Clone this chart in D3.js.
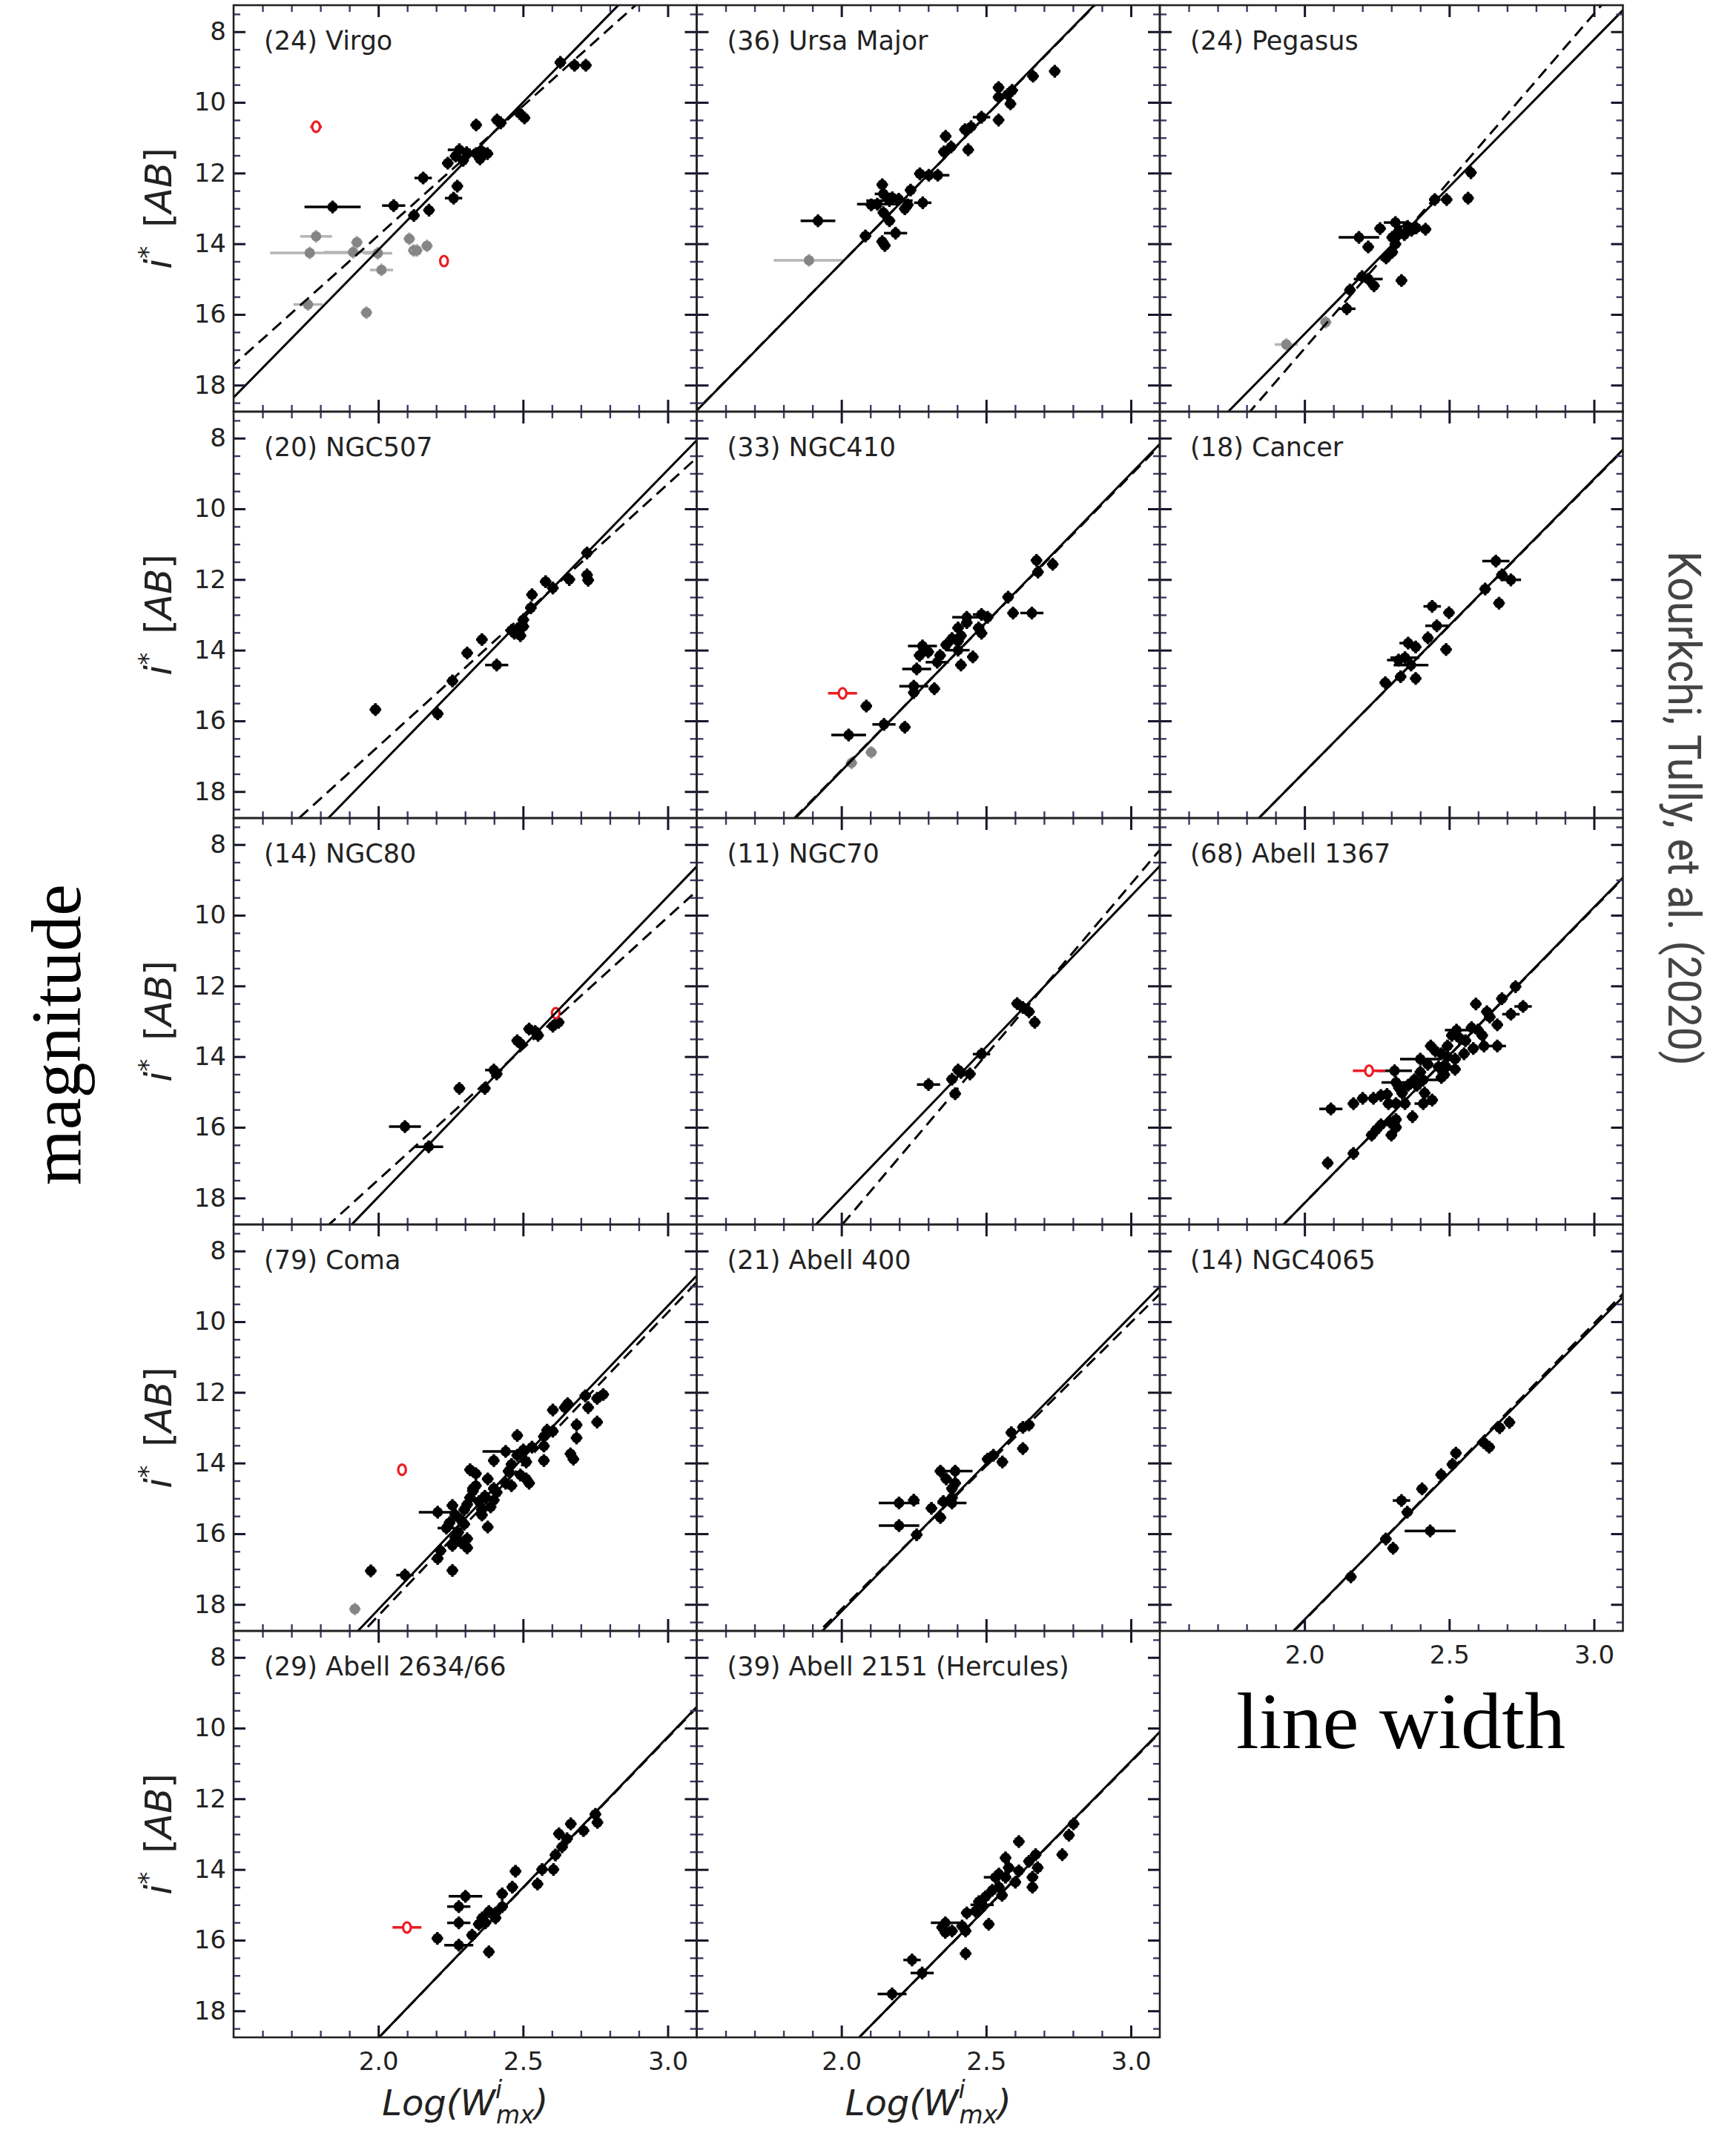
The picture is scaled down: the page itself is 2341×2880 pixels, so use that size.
<!DOCTYPE html>
<html><head><meta charset="utf-8">
<script src="https://cdn.jsdelivr.net/npm/d3@7"></script>
<style>body{margin:0;background:#fff} svg{display:block}</style>
</head><body>
<svg id="c" width="2341" height="2880"></svg>
<script>
// ---------------- DATA ----------------
const panelNames = ["(24) Virgo","(36) Ursa Major","(24) Pegasus","(20) NGC507","(33) NGC410","(18) Cancer",
  "(14) NGC80","(11) NGC70","(68) Abell 1367","(79) Coma","(21) Abell 400","(14) NGC4065",
  "(29) Abell 2634/66","(39) Abell 2151 (Hercules)"];
// fit lines: [magnitude at log W = 2.5, slope]
const solidFits = [[10.0,-8.35],[10.37,-8.35],[12.39,-8.33],[13.10,-8.40],[13.21,-8.41],[13.30,-8.29],
  [13.72,-8.50],[13.73,-8.54],[13.96,-8.37],[13.85,-8.59],[14.02,-8.36],[14.28,-8.30],[14.51,-8.52],[15.10,-8.32]];
const dashedFits = [[10.10,-7.33],[10.38,-8.33],[12.23,-9.47],[13.01,-7.42],[13.22,-8.35],[13.31,-8.27],
  [13.77,-7.43],[13.95,-9.66],[13.97,-8.35],[14.03,-8.58],[14.08,-8.11],[14.25,-8.40],[14.52,-8.50],[15.11,-8.30]];
const xMajorTicks = [2.0, 2.5, 3.0];
const yMajorTicks = [8, 10, 12, 14, 16, 18];
const typicalMagErr = 0.18;
// points: [logW, mag, logW error]
const virgoBlack = [[2.629,8.87],[2.678,8.95],[2.717,8.95],[2.505,10.44],[2.410,10.50],[2.423,10.58],[2.338,10.64],[2.488,10.31],
  [2.280,11.34,0.04],[2.305,11.42],[2.338,11.45],[2.351,11.60],[2.377,11.45],[2.357,11.38],[2.240,11.72],[2.293,11.64],[2.267,11.52],
  [2.155,12.14,0.03],[2.273,12.37],[2.260,12.71,0.03],[2.053,12.92,0.04],[1.842,12.96,0.097],[2.175,13.05],[2.123,13.20]];
const virgoGray = [[1.785,13.79,0.055],[1.763,14.26,0.137],[1.913,14.24,0.1],[1.926,13.96],[2.011,14.74,0.04],[1.757,15.72,0.05],
  [1.959,15.95],[2.107,13.86],[2.122,14.19],[2.133,14.19],[2.168,14.06],[1.998,14.27,0.05]];
const virgoRed = [[1.785,10.69,0.02],[2.227,14.49,0]];
const ursaBlack = [[2.737,9.12],[2.662,9.26],[2.543,9.58],[2.590,9.66],[2.543,9.85],[2.574,9.78],[2.584,10.04],[2.484,10.42,0.03],
  [2.543,10.50],[2.427,10.77],[2.448,10.69],[2.360,10.96],[2.379,11.26],[2.438,11.34],[2.354,11.40],[2.271,12.02],[2.333,12.06,0.04],
  [2.302,12.06],[2.239,12.48],[2.141,12.33],[2.145,12.59,0.03],[2.176,12.70],[2.166,12.78,0.08],[2.124,12.88,0.07],[2.281,12.84,0.03],
  [2.229,12.90],[2.103,12.90],[2.219,13.01],[2.145,13.12],[2.166,13.35],[1.919,13.35,0.06],[2.187,13.70,0.04],[2.083,13.78],
  [2.141,13.94],[2.150,14.05],[2.198,12.74]];
const ursaGray = [[1.888,14.47,0.122]];
const ursaRed = [];
const pegasusBlack = [[2.575,11.99],[2.565,12.71],[2.450,12.75],[2.491,12.75],[2.418,13.59],[2.314,13.40,0.04],[2.261,13.57],
  [2.356,13.51,0.03],[2.324,13.66],[2.303,13.82],[2.188,13.82,0.07],[2.220,14.09],[2.314,14.01],[2.303,14.24],[2.282,14.40],
  [2.335,15.04],[2.220,15.00,0.05],[2.240,15.19],[2.199,14.93],[2.146,15.84,0.03],[2.157,15.31],[2.345,13.74],[2.386,13.55],[2.370,13.62,0.03]];
const pegasusGray = [[1.937,16.85,0.04],[2.073,16.22]];
const pegasusRed = [];
const ngc507Black = [[2.721,11.25],[2.660,12.00],[2.721,11.87],[2.725,12.02],[2.578,12.06],[2.603,12.24],[2.531,12.43],[2.527,12.80],
  [2.501,13.14],[2.501,13.33],[2.460,13.44],[2.480,13.40],[2.491,13.59],[2.470,13.52],[2.358,13.70],[2.307,14.08],[2.409,14.42,0.04],
  [2.256,14.87],[2.205,15.80],[1.990,15.68]];
const ngc507Gray = [];
const ngc507Red = [];
const ngc410Black = [[2.674,11.46],[2.730,11.57],[2.679,11.79],[2.576,12.50],[2.593,12.95],[2.658,12.95,0.04],[2.484,12.99,0.03],
  [2.433,13.07,0.05],[2.505,13.07],[2.403,13.37],[2.474,13.37],[2.484,13.52],[2.413,13.59],[2.403,13.74],[2.382,13.67],[2.433,13.22],
  [2.362,13.85],[2.280,13.88,0.05],[2.403,14.00,0.04],[2.454,14.19],[2.270,14.15],[2.341,14.15],[2.331,14.34,0.04],[2.413,14.42],
  [2.260,14.53,0.05],[2.250,15.02,0.05],[2.321,15.09],[2.250,15.20],[2.086,15.58],[2.147,16.10,0.04],[2.219,16.18],[2.025,16.40,0.06],[2.300,14.05]];
const ngc410Gray = [[2.103,16.89],[2.035,17.19]];
const ngc410Red = [[2.004,15.22,0.05]];
const cancerBlack = [[2.661,11.48,0.047],[2.682,11.87],[2.713,12.01,0.035],[2.624,12.27],[2.672,12.67],[2.441,12.76,0.03],[2.499,12.94],
  [2.457,13.31,0.04],[2.426,13.65],[2.489,13.98],[2.358,13.80,0.03],[2.384,13.91],[2.347,14.21,0.05],[2.325,14.28,0.04],[2.368,14.42,0.06],
  [2.332,14.75],[2.384,14.80],[2.279,14.92]];
const cancerGray = [];
const cancerRed = [];
const ngc80Black = [[2.623,13.03],[2.603,13.14],[2.542,13.29],[2.521,13.22],[2.552,13.40],[2.480,13.55],[2.491,13.63],[2.399,14.38,0.03],
  [2.409,14.49],[2.368,14.90],[2.280,14.90],[2.092,15.98,0.055],[2.174,16.55,0.05]];
const ngc80Gray = [];
const ngc80Red = [[2.613,12.77,0]];
const ngc70Black = [[2.607,12.50],[2.627,12.61],[2.648,12.73],[2.668,13.03],[2.484,13.93,0.03],[2.403,14.38],[2.444,14.49],
  [2.382,14.64],[2.301,14.79,0.04],[2.393,15.05],[2.413,14.45]];
const ngc70Gray = [];
const ngc70Red = [];
const abell1367Black = [[2.729,12.02],[2.682,12.36],[2.755,12.58,0.03],[2.713,12.80,0.03],[2.592,12.51],[2.630,12.73],[2.640,12.88],
  [2.666,13.10],[2.577,13.18],[2.599,13.25],[2.614,13.40],[2.525,13.25,0.04],[2.535,13.47],[2.509,13.40],[2.556,13.55],[2.620,13.70],
  [2.666,13.70,0.03],[2.583,13.77],[2.551,13.92],[2.494,13.70],[2.436,13.70],[2.452,13.84],[2.473,13.92],[2.494,14.00],[2.520,14.07],
  [2.400,14.07,0.07],[2.426,14.22],[2.463,14.29],[2.489,14.29],[2.520,14.36],[2.483,14.51],[2.473,14.59],[2.400,14.44],[2.311,14.40,0.06],
  [2.379,14.66],[2.410,14.66,0.05],[2.358,14.81],[2.389,14.81],[2.316,14.73,0.05],[2.326,14.88],[2.337,15.03],[2.415,15.03],
  [2.410,15.33,0.03],[2.441,15.23],[2.285,15.07],[2.264,15.10],[2.238,15.18],[2.201,15.18],[2.169,15.33],[2.290,15.33],[2.316,15.33],
  [2.347,15.33],[2.091,15.48,0.04],[2.373,15.70],[2.316,15.78],[2.295,15.85],[2.264,15.93],[2.316,16.00],[2.248,16.07],[2.300,16.22],
  [2.232,16.22],[2.169,16.74],[2.080,17.01]];
const abell1367Gray = [];
const abell1367Red = [[2.223,14.40,0.056]];
const comaBlack = [[2.777,12.06],[2.756,12.17],[2.715,12.10],[2.725,12.43],[2.654,12.32],[2.644,12.43],[2.603,12.50],[2.756,12.84],
  [2.685,12.92],[2.603,13.10],[2.583,13.07],[2.572,13.25],[2.685,13.29],[2.480,13.22],[2.572,13.52],[2.531,13.55],[2.501,13.63],
  [2.440,13.67,0.08],[2.480,13.78],[2.664,13.74],[2.674,13.89],[2.572,13.93],[2.399,13.93],[2.511,13.97],[2.460,14.04],[2.450,14.23],
  [2.317,14.19],[2.337,14.30],[2.491,14.34],[2.511,14.45],[2.521,14.57],[2.378,14.45],[2.440,14.57],[2.399,14.72],[2.327,14.72],
  [2.409,14.83],[2.368,14.94],[2.317,14.98],[2.399,15.05],[2.348,15.09],[2.307,15.17],[2.256,15.20],[2.388,15.24],[2.358,15.32],
  [2.297,15.32],[2.205,15.39,0.065],[2.266,15.47],[2.358,15.47],[2.286,15.62],[2.246,15.69],[2.297,15.73],[2.378,15.81],
  [2.235,15.84,0.03],[2.276,15.96],[2.266,16.10],[2.307,16.14],[2.286,16.25],[2.256,16.33],[2.307,16.40],[2.215,16.48],[2.205,16.70],
  [2.256,17.04],[2.092,17.17,0.03],[1.974,17.05],[2.327,14.79],[2.337,14.64],[2.460,14.64]];
const comaGray = [[1.919,18.13]];
const comaRed = [[2.082,14.19,0]];
const abell400Black = [[2.648,12.92],[2.627,12.99],[2.587,13.14],[2.627,13.59],[2.525,13.78],[2.505,13.89],[2.556,13.97],
  [2.393,14.23,0.06],[2.342,14.23],[2.362,14.45],[2.393,14.57],[2.382,14.72],[2.382,14.98],[2.382,15.13,0.05],[2.250,15.05],
  [2.199,15.13,0.07],[2.311,15.28],[2.342,15.54],[2.199,15.77,0.07],[2.260,16.03],[2.352,15.09]];
const abell400Gray = [];
const abell400Red = [];
const ngc4065Black = [[2.708,12.85],[2.674,13.00],[2.619,13.42],[2.638,13.55],[2.523,13.72],[2.511,14.04],[2.472,14.33],[2.406,14.73],
  [2.335,15.06,0.03],[2.355,15.39],[2.434,15.92,0.088],[2.281,16.15],[2.306,16.41],[2.160,17.22]];
const ngc4065Gray = [];
const ngc4065Red = [];
const abell2634Black = [[2.750,12.44],[2.757,12.67],[2.709,12.90],[2.665,12.71],[2.624,12.99],[2.652,13.13],[2.635,13.36],[2.612,13.59],
  [2.605,14.00],[2.566,14.00],[2.550,14.41],[2.474,14.05],[2.463,14.50],[2.428,14.69],[2.428,15.05],[2.405,15.23],[2.359,15.37],
  [2.382,15.19],[2.301,14.76,0.058],[2.278,15.05,0.04],[2.278,15.51,0.04],[2.347,15.55],[2.324,15.86],[2.278,16.14,0.05],[2.204,15.95],
  [2.382,16.33],[2.370,15.51],[2.405,15.37]];
const abell2634Gray = [];
const abell2634Red = [[2.099,15.64,0.05]];
const abell2151Black = [[2.802,12.71],[2.786,13.03],[2.763,13.58],[2.671,13.58],[2.648,13.77],[2.678,13.95],[2.660,14.22],[2.660,14.50],
  [2.613,14.04],[2.613,13.21],[2.567,13.67],[2.567,14.22],[2.532,14.22,0.04],[2.544,14.50],[2.555,14.73],[2.521,14.59],[2.498,14.77],
  [2.486,15.00,0.04],[2.463,15.18],[2.433,15.23],[2.509,15.55],[2.417,15.60],[2.359,15.51,0.05],[2.382,15.74],[2.429,15.74],
  [2.359,15.78],[2.429,16.38],[2.244,16.56,0.03],[2.279,16.93,0.04],[2.175,17.52,0.05],[2.578,13.95],[2.601,14.36],[2.475,14.91],
  [2.544,14.13],[2.348,15.64]];
const abell2151Gray = [];
const abell2151Red = [];

const blackSets = [virgoBlack,ursaBlack,pegasusBlack,ngc507Black,ngc410Black,cancerBlack,ngc80Black,ngc70Black,abell1367Black,comaBlack,abell400Black,ngc4065Black,abell2634Black,abell2151Black];
const graySets = [virgoGray,ursaGray,pegasusGray,ngc507Gray,ngc410Gray,cancerGray,ngc80Gray,ngc70Gray,abell1367Gray,comaGray,abell400Gray,ngc4065Gray,abell2634Gray,abell2151Gray];
const redSets = [virgoRed,ursaRed,pegasusRed,ngc507Red,ngc410Red,cancerRed,ngc80Red,ngc70Red,abell1367Red,comaRed,abell400Red,ngc4065Red,abell2634Red,abell2151Red];

// ---------------- LAYOUT ----------------
const W = 624.5, H = 548, L0 = 315, T0 = 7;
const svg = d3.select("#c");
const defs = svg.append("defs");
const x = d3.scaleLinear().domain([1.5, 3.1]).range([0, W]);
const y = d3.scaleLinear().domain([7.25, 18.75]).range([0, H]);
const FONT = "DejaVu Sans, sans-serif";
const minorX = d3.range(16, 31).map(v => v / 10).filter(v => !xMajorTicks.some(m => Math.abs(m - v) < 1e-6));
const minorY = d3.range(15, 38).map(v => v / 2).filter(v => v % 2 !== 0);

function axis(g, gen, vals, size, transform, fmt, pad, major) {
  const a = gen.tickValues(vals).tickSize(-size).tickPadding(pad).tickFormat(fmt);
  const s = g.append("g").attr("transform", transform).call(a);
  s.select(".domain").remove();
  s.selectAll(".tick line").attr("stroke", major ? "#15152a" : "#3a3a66").attr("stroke-width", major ? 3 : 2.4);
  s.selectAll(".tick text").attr("font-family", FONT).attr("font-size", 34).attr("fill", "#222");
}

panelNames.forEach((name, i) => {
  const col = i % 3, row = Math.floor(i / 3);
  const g = svg.append("g").attr("transform", `translate(${L0 + col * W},${T0 + row * H})`);
  defs.append("clipPath").attr("id", "cp" + i).append("rect").attr("width", W).attr("height", H);
  const inner = g.append("g").attr("clip-path", `url(#cp${i})`);

  const drawPts = (pts, mcol, ecol, open) => {
    pts.forEach(p => {
      const ex = p[2] === undefined ? 0.02 : p[2];
      if (ex > 0) inner.append("line").attr("x1", x(p[0] - ex)).attr("x2", x(p[0] + ex))
        .attr("y1", y(p[1])).attr("y2", y(p[1])).attr("stroke", ecol).attr("stroke-width", 3.5);
      if (!open) inner.append("line").attr("x1", x(p[0])).attr("x2", x(p[0]))
        .attr("y1", y(p[1] - typicalMagErr)).attr("y2", y(p[1] + typicalMagErr)).attr("stroke", ecol).attr("stroke-width", 3.5);
      if (open) inner.append("ellipse").attr("cx", x(p[0])).attr("cy", y(p[1])).attr("rx", 5.2).attr("ry", 7)
        .attr("fill", "#fff").attr("stroke", mcol).attr("stroke-width", 3.2);
      else inner.append("circle").attr("cx", x(p[0])).attr("cy", y(p[1])).attr("r", 7).attr("fill", mcol);
    });
  };
  drawPts(graySets[i], "#858585", "#b5b5b5", false);
  drawPts(blackSets[i], "#000", "#000", false);
  drawPts(redSets[i], "#ec1c24", "#ec1c24", true);

  const line = d3.line().x(d => x(d[0])).y(d => y(d[1]));
  const fitPts = f => [1.3, 3.3].map(v => [v, f[0] + f[1] * (v - 2.5)]);
  inner.append("path").attr("d", line(fitPts(dashedFits[i]))).attr("fill", "none")
    .attr("stroke", "#000").attr("stroke-width", 3).attr("stroke-dasharray", "16,9");
  inner.append("path").attr("d", line(fitPts(solidFits[i]))).attr("fill", "none")
    .attr("stroke", "#000").attr("stroke-width", 3);

  const showX = (row === 4) || (row === 3 && col === 2);
  const showY = col === 0;
  const fx = showX ? (d => d.toFixed(1)) : (() => "");
  const fy = showY ? (d => String(d)) : (() => "");
  axis(g, d3.axisBottom(x), xMajorTicks, 16, `translate(0,${H})`, fx, 20, true);
  axis(g, d3.axisBottom(x), minorX, 9, `translate(0,${H})`, () => "", 0, false);
  axis(g, d3.axisTop(x), xMajorTicks, 16, `translate(0,0)`, () => "", 0, true);
  axis(g, d3.axisTop(x), minorX, 9, `translate(0,0)`, () => "", 0, false);
  axis(g, d3.axisLeft(y), yMajorTicks, 16, `translate(0,0)`, fy, 10, true);
  axis(g, d3.axisLeft(y), minorY, 9, `translate(0,0)`, () => "", 0, false);
  axis(g, d3.axisRight(y), yMajorTicks, 16, `translate(${W},0)`, () => "", 0, true);
  axis(g, d3.axisRight(y), minorY, 9, `translate(${W},0)`, () => "", 0, false);

  g.append("rect").attr("width", W).attr("height", H).attr("fill", "none").attr("stroke", "#222").attr("stroke-width", 2.6);

  g.append("text").attr("x", 41).attr("y", 60).attr("font-family", FONT).attr("font-size", 35).attr("fill", "#222").text(name);

  if (showY) {
    const t = svg.append("text").attr("transform", `translate(231,${T0 + row * H + H / 2}) rotate(-90)`)
      .attr("text-anchor", "middle").attr("font-family", FONT).attr("font-size", 50).attr("fill", "#222");
    t.append("tspan").attr("font-style", "italic").text("i");
    t.append("tspan").attr("font-size", 34).attr("dy", -20).text("*");
    t.append("tspan").attr("dy", 20).text("\u2002[");
    t.append("tspan").attr("font-style", "italic").text("AB");
    t.append("tspan").text("]");
  }
  if (row === 4) {
    const t = svg.append("text").attr("x", L0 + col * W + W / 2).attr("y", 2852)
      .attr("text-anchor", "middle").attr("font-family", FONT).attr("font-style", "italic").attr("font-size", 48).attr("fill", "#222");
    t.append("tspan").text("Log(W");
    t.append("tspan").attr("font-size", 33).attr("dy", -23).text("i");
    t.append("tspan").attr("font-size", 33).attr("dx", "-0.25em").attr("dy", 34).text("mx");
    t.append("tspan").attr("dy", -11).text(")");
  }
});

// big annotation texts
svg.append("text").attr("transform", "translate(108,1395) rotate(-90)").attr("text-anchor", "middle")
  .attr("font-family", "Liberation Serif, serif").attr("font-size", 96).attr("fill", "#000")
  .attr("textLength", 406).attr("lengthAdjust", "spacingAndGlyphs").text("magnitude");
svg.append("text").attr("x", 1667).attr("y", 2357)
  .attr("font-family", "Liberation Serif, serif").attr("font-size", 108).attr("fill", "#000")
  .attr("textLength", 444).attr("lengthAdjust", "spacingAndGlyphs").text("line width");
svg.append("text").attr("transform", "translate(2250,743) rotate(90)")
  .attr("font-family", "Roboto, sans-serif").attr("font-size", 62).attr("fill", "#444")
  .attr("textLength", 694).attr("lengthAdjust", "spacingAndGlyphs").text("Kourkchi, Tully, et al. (2020)");
</script>
</body></html>
